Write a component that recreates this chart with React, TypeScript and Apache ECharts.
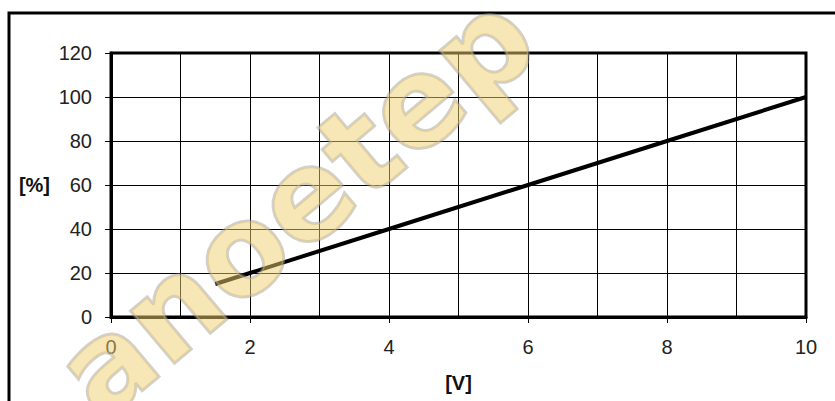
import React, { useEffect, useRef } from "react";
import * as echarts from "echarts";

const xValues = [1.5, 2, 4, 6, 8, 10];
const yValues = [15, 20, 40, 60, 80, 100];
const xAxisName = "[V]";
const yAxisName = "[%]";
const watermarkText = "anoetep";

export default function App() {
  const ref = useRef<HTMLDivElement>(null);
  useEffect(() => {
    const chart = echarts.init(ref.current!, null, { renderer: "svg" });
    const font = "'Liberation Sans', Arial, sans-serif";
    chart.setOption({
      animation: false,
      backgroundColor: "#fff",
      grid: {
        left: 111,
        top: 53,
        right: 29,
        bottom: 84,
        show: true,
        borderColor: "#000",
        borderWidth: 3,
        backgroundColor: "transparent",
      },
      xAxis: {
        type: "value",
        min: 0,
        max: 10,
        interval: 2,
        name: xAxisName,
        nameLocation: "middle",
        nameGap: 56,
        nameTextStyle: { fontFamily: font, fontWeight: "bold", fontSize: 20, color: "#111" },
        axisLine: { show: true, lineStyle: { color: "#000", width: 3 } },
        axisTick: { show: true, length: 6, lineStyle: { color: "#000", width: 1 } },
        axisLabel: { fontFamily: font, fontSize: 20, color: "#222", margin: 20 },
        splitLine: { show: true, lineStyle: { color: "#000", width: 1 } },
        minorTick: { show: false, splitNumber: 2 },
        minorSplitLine: { show: true, lineStyle: { color: "#000", width: 1 } },
      },
      yAxis: {
        type: "value",
        min: 0,
        max: 120,
        interval: 20,
        name: yAxisName,
        nameLocation: "middle",
        nameRotate: 0,
        nameGap: 61,
        nameTextStyle: { fontFamily: font, fontWeight: "bold", fontSize: 20, color: "#111" },
        axisLine: { show: true, lineStyle: { color: "#000", width: 3 } },
        axisTick: { show: true, length: 6, lineStyle: { color: "#000", width: 1 } },
        axisLabel: { fontFamily: font, fontSize: 20, color: "#222", margin: 19 },
        splitLine: { show: true, lineStyle: { color: "#000", width: 1 } },
      },
      series: [
        {
          type: "line",
          data: xValues.map((x, i) => [x, yValues[i]]),
          showSymbol: false,
          symbol: "none",
          lineStyle: { color: "#000", width: 4 },
          z: 5,
        },
      ],
      graphic: [
        {
          type: "rect",
          z: 100,
          shape: { x: 9, y: 13, width: 900, height: 500 },
          style: { fill: "none", stroke: "#000", lineWidth: 3 },
        },
        {
          type: "text",
          z: 100,
          x: 295,
          y: 205,
          rotation: 0.7,
          style: {
            text: watermarkText,
            fontFamily: "'DejaVu Sans', sans-serif",
            fontWeight: "bold",
            fontSize: 125,
            fill: "rgba(240, 205, 110, 0.5)",
            stroke: "rgba(150, 150, 150, 0.45)",
            lineWidth: 3,
            align: "center",
            verticalAlign: "middle",
          },
        },
      ],
    });
    return () => chart.dispose();
  }, []);
  return (
    <div
      ref={ref}
      style={{ position: "fixed", left: 0, top: 0, width: 835, height: 401 }}
    />
  );
}
